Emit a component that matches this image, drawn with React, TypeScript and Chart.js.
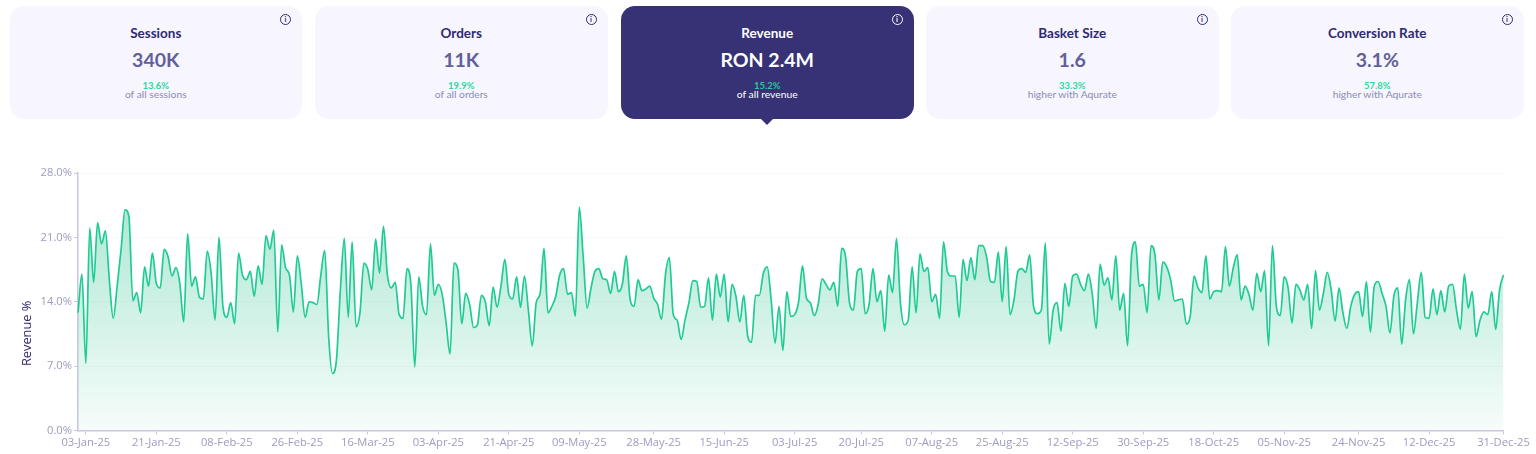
import React, { useEffect, useRef } from "react";
import { Chart, registerables } from "chart.js";

Chart.register(...registerables);

const cardTitles = ["Sessions", "Orders", "Revenue", "Basket Size", "Conversion Rate"];
const cardValues = ["340K", "11K", "RON 2.4M", "1.6", "3.1%"];
const cardPercents = ["13.6%", "19.9%", "15.2%", "33.3%", "57.8%"];
const cardNotes = ["of all sessions", "of all orders", "of all revenue", "higher with Aqurate", "higher with Aqurate"];
const cardLefts = [9.5, 315, 621, 926, 1231];
const activeCard = 2;

const tickLabels = [
  "03-Jan-25", "21-Jan-25", "08-Feb-25", "26-Feb-25", "16-Mar-25", "03-Apr-25", "21-Apr-25",
  "09-May-25", "28-May-25", "15-Jun-25", "03-Jul-25", "20-Jul-25", "07-Aug-25", "25-Aug-25",
  "12-Sep-25", "30-Sep-25", "18-Oct-25", "05-Nov-25", "24-Nov-25", "12-Dec-25", "31-Dec-25",
];

const yTicks = [0, 7, 14, 21, 28];

const revenueShare = [
  12.8, 17.0, 7.3, 22.0, 16.1, 22.6, 20.3, 21.7, 16.4, 12.2, 15.7, 19.7, 24.0, 23.3, 14.1, 15.0, 12.8, 17.8, 15.7, 19.3,
  16.0, 15.5, 19.7, 18.9, 16.8, 17.7, 16.0, 11.8, 21.4, 15.7, 16.7, 14.5, 14.3, 19.5, 17.1, 12.0, 21.0, 13.5, 12.3, 13.9,
  11.6, 19.3, 16.9, 16.4, 17.3, 14.6, 17.9, 15.9, 21.2, 19.7, 21.8, 10.7, 20.2, 17.7, 16.9, 12.9, 19.0, 16.0, 12.3, 14.0,
  13.9, 13.7, 16.9, 19.6, 10.2, 6.2, 7.7, 15.3, 20.9, 12.3, 20.5, 11.3, 12.8, 18.2, 17.5, 15.3, 20.8, 17.1, 22.2, 16.9,
  15.5, 16.1, 12.6, 12.2, 17.6, 15.9, 6.9, 16.7, 13.5, 12.6, 20.3, 14.7, 15.9, 14.8, 11.7, 8.3, 18.2, 17.5, 11.6, 14.9,
  13.7, 11.2, 11.5, 14.7, 14.0, 11.4, 15.6, 13.4, 15.7, 18.6, 14.8, 14.3, 16.7, 13.4, 16.8, 13.1, 9.2, 13.9, 14.9, 19.8,
  12.8, 13.5, 14.6, 16.9, 17.6, 14.8, 15.0, 12.4, 24.3, 18.9, 13.3, 15.5, 17.3, 17.6, 16.5, 16.4, 14.9, 17.3, 15.1, 15.9,
  19.0, 14.2, 13.5, 16.4, 15.2, 15.4, 15.7, 14.4, 13.7, 12.1, 16.9, 18.8, 12.6, 12.0, 9.9, 12.0, 13.9, 16.3, 16.2, 13.4,
  13.5, 16.6, 12.0, 17.0, 14.5, 17.0, 11.8, 15.9, 14.6, 11.8, 14.7, 10.3, 9.6, 14.7, 14.7, 17.1, 17.8, 14.2, 9.5, 13.5,
  8.7, 15.1, 12.4, 12.6, 14.0, 17.9, 14.4, 13.9, 12.5, 13.7, 16.5, 15.9, 15.3, 16.1, 13.5, 19.8, 18.9, 13.9, 13.1, 17.3,
  17.6, 12.7, 13.7, 17.6, 14.0, 15.2, 10.8, 16.9, 15.0, 20.9, 13.9, 11.5, 12.0, 17.8, 12.8, 19.2, 17.3, 17.7, 14.0, 14.8,
  12.2, 20.5, 17.3, 16.8, 16.8, 12.3, 18.6, 16.3, 18.8, 16.4, 20.1, 20.1, 18.9, 16.2, 16.1, 19.4, 14.0, 20.0, 12.6, 14.2,
  17.3, 17.6, 17.2, 19.1, 13.5, 12.7, 13.1, 20.4, 9.4, 13.1, 13.9, 10.8, 16.0, 13.5, 16.8, 17.0, 15.9, 15.2, 17.0, 14.8,
  11.1, 18.1, 15.8, 16.6, 14.2, 19.0, 13.1, 14.9, 9.2, 18.9, 20.5, 15.7, 15.9, 12.8, 20.1, 19.1, 14.2, 18.3, 17.8, 16.4,
  14.1, 14.2, 14.3, 11.6, 12.4, 16.8, 15.5, 15.0, 19.0, 14.3, 15.1, 15.2, 15.1, 20.0, 15.7, 17.7, 19.1, 14.2, 15.7, 14.8,
  13.1, 17.1, 15.1, 17.4, 9.2, 20.1, 13.5, 12.5, 16.7, 15.5, 11.7, 15.9, 15.3, 14.2, 15.9, 11.1, 17.4, 13.1, 14.9, 17.2,
  15.3, 11.9, 15.5, 12.8, 11.1, 13.5, 14.8, 15.1, 12.4, 16.2, 10.7, 15.7, 16.2, 14.9, 13.5, 10.6, 14.6, 15.5, 9.4, 14.2,
  16.4, 10.5, 13.9, 17.2, 12.3, 12.2, 15.4, 12.6, 15.2, 12.9, 15.7, 15.9, 13.1, 11.0, 17.0, 13.3, 15.1, 10.2, 12.0, 12.9,
  12.6, 15.1, 11.0, 15.3, 16.9,
];

const MONTHS = ["Jan", "Feb", "Mar", "Apr", "May", "Jun", "Jul", "Aug", "Sep", "Oct", "Nov", "Dec"];
const dayLabels = revenueShare.map((_, i) => {
  const d = new Date(Date.UTC(2025, 0, 1 + i));
  return `${String(d.getUTCDate()).padStart(2, "0")}-${MONTHS[d.getUTCMonth()]}-25`;
});

const TICK_FONT = "'Open Sans', sans-serif";
const CARD_FONT = "Lato, sans-serif";

function InfoIcon({ color }: { color: string }) {
  return (
    <div
      style={{
        position: "absolute", right: 11, top: 8, width: 9, height: 9, borderRadius: "50%",
        border: `1.2px solid ${color}`, color, fontFamily: CARD_FONT, fontSize: 7.5, fontWeight: 700,
        lineHeight: "9px", textAlign: "center",
      }}
    >
      i
    </div>
  );
}

function Card({ index }: { index: number }) {
  const active = index === activeCard;
  const line = (top: number, size: number, weight: number, color: string, text: string) => (
    <div
      style={{
        position: "absolute", left: 0, right: 0, top, textAlign: "center", fontFamily: CARD_FONT,
        fontSize: size, fontWeight: weight, color, lineHeight: "16px", height: 16, whiteSpace: "nowrap",
      }}
    >
      {text}
    </div>
  );
  return (
    <div
      style={{
        position: "absolute", left: cardLefts[index], top: 6, width: 292.5, height: 112.5, borderRadius: 14,
        background: active ? "#363275" : "#F7F6FE", boxSizing: "border-box",
      }}
    >
      <InfoIcon color={active ? "#FFFFFF" : "#2E2A72"} />
      {line(19, 13.5, 700, active ? "#FFFFFF" : "#2E2A72", cardTitles[index])}
      {line(46, 19.5, 700, active ? "#FFFFFF" : "#625F9A", cardValues[index])}
      {line(71.5, 9.5, 700, active ? "#2BC79A" : "#2BD9A0", cardPercents[index])}
      {line(80, 10.3, 400, active ? "#FFFFFF" : "#8D8BB5", cardNotes[index])}
      {active && (
        <div
          style={{
            position: "absolute", left: "50%", top: 112, marginLeft: -7, width: 0, height: 0,
            borderLeft: "7px solid transparent", borderRight: "7px solid transparent",
            borderTop: "7px solid #363275",
          }}
        />
      )}
    </div>
  );
}

export default function App() {
  const ref = useRef<HTMLCanvasElement | null>(null);

  useEffect(() => {
    if (!ref.current) return;
    const chart = new Chart(ref.current, {
      type: "line",
      data: {
        labels: dayLabels,
        datasets: [
          {
            label: "Revenue %",
            data: revenueShare,
            borderColor: "#1FCB95",
            borderWidth: 1.7,
            pointRadius: 0,
            cubicInterpolationMode: "monotone",
            fill: "origin",
            backgroundColor: (ctx: any) => {
              const area = ctx.chart.chartArea;
              if (!area) return "rgba(31,203,149,0.2)";
              const g = ctx.chart.ctx.createLinearGradient(0, area.top + 30, 0, area.bottom);
              g.addColorStop(0, "rgba(31,190,135,0.36)");
              g.addColorStop(1, "rgba(31,190,135,0.04)");
              return g;
            },
          },
        ],
      },
      options: {
        responsive: false,
        animation: false,
        layout: { padding: { top: 23, right: 32.5, left: 0, bottom: 0 } },
        plugins: { legend: { display: false }, tooltip: { enabled: false } },
        scales: {
          x: {
            type: "category",
            afterBuildTicks: (scale: any) => {
              scale.ticks = tickLabels.map((t) => ({ value: dayLabels.indexOf(t) }));
            },
            afterFit: (scale: any) => {
              scale.height = 23.5;
            },
            grid: { drawOnChartArea: false, drawTicks: true, tickLength: 4, tickColor: "#C8C7DF" },
            border: { color: "#C8C7DF", width: 1.5 },
            ticks: {
              autoSkip: false,
              maxRotation: 0,
              minRotation: 0,
              padding: 2,
              color: "#9D9BC0",
              font: { family: TICK_FONT, size: 11.2 },
            },
          },
          y: {
            min: 0,
            max: 28,
            afterBuildTicks: (scale: any) => {
              scale.ticks = yTicks.map((v) => ({ value: v }));
            },
            afterFit: (scale: any) => {
              scale.width = 78;
            },
            title: {
              display: true,
              text: "Revenue %" + "\u00A0".repeat(19),
              color: "#2E2A72",
              font: { family: TICK_FONT, size: 12.8 },
              padding: { top: 20, bottom: 0 },
            },
            grid: { color: "#F9F8FC", lineWidth: 1, tickColor: "#C8C7DF", tickLength: 4 },
            border: { color: "#C8C7DF", width: 1.5 },
            ticks: {
              padding: 2,
              color: "#9D9BC0",
              font: { family: TICK_FONT, size: 11.2 },
              callback: (v: any) => `${Number(v).toFixed(1)}%`,
            },
          },
        },
      },
    });
    return () => chart.destroy();
  }, []);

  return (
    <div style={{ position: "fixed", left: 0, top: 0, width: 1536, height: 454, overflow: "hidden", background: "#fff" }}>
      {cardTitles.map((_, i) => (
        <Card key={i} index={i} />
      ))}
      <canvas
        ref={ref}
        width={1536}
        height={304}
        style={{ position: "absolute", left: 0, top: 150, width: 1536, height: 304 }}
      />
    </div>
  );
}
